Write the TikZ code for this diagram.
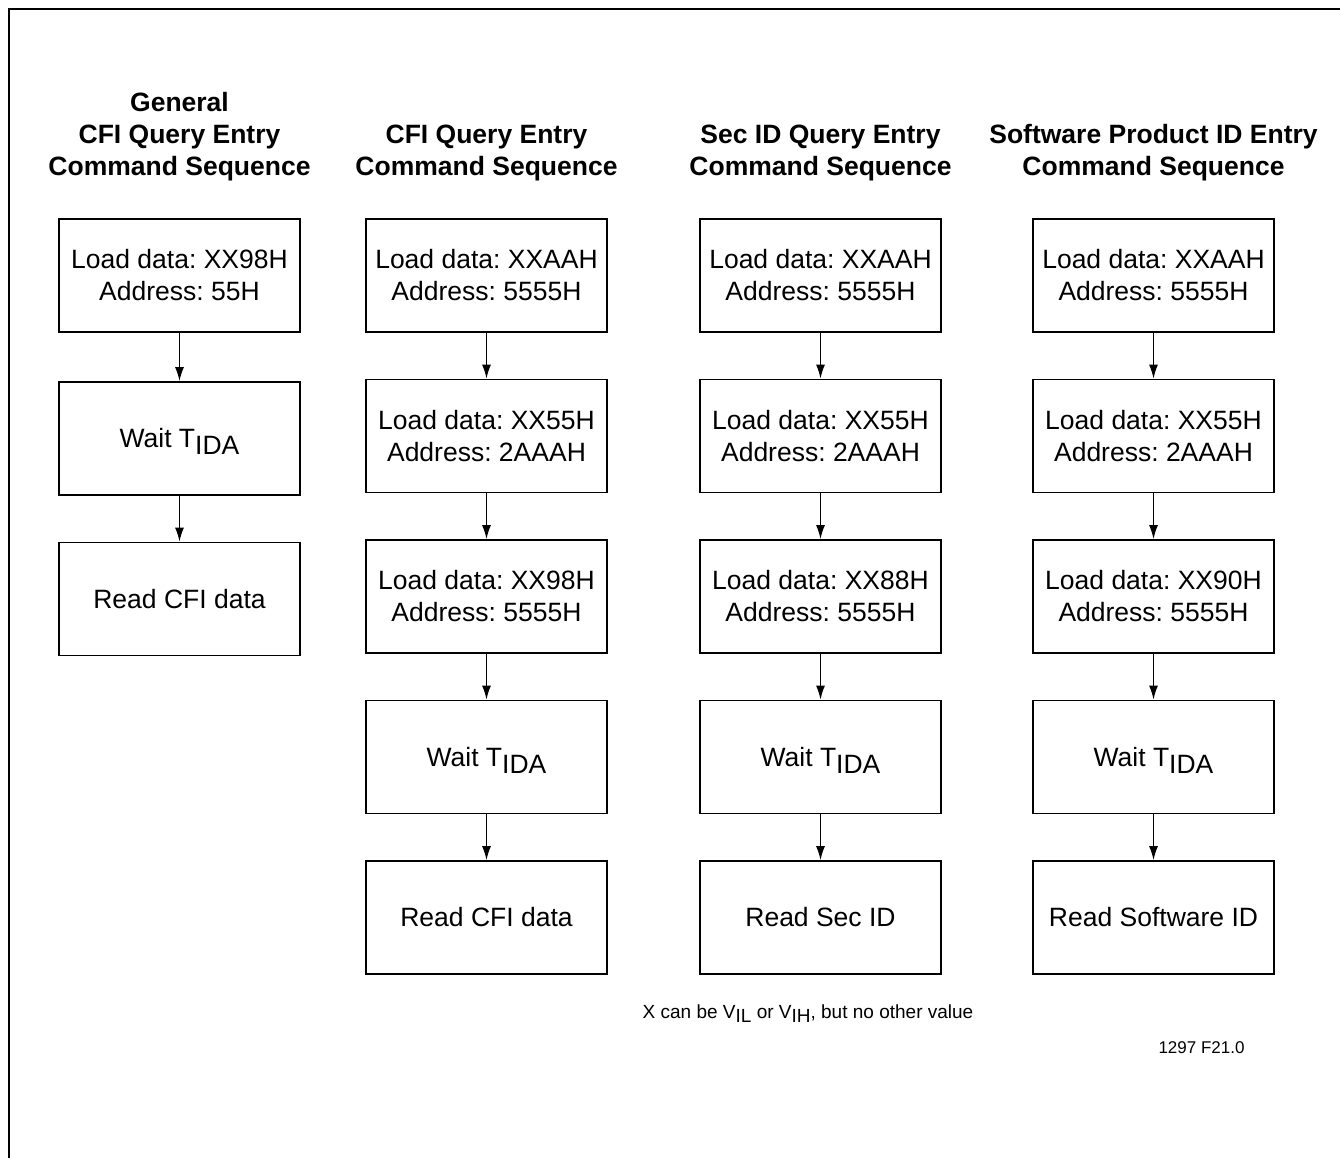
\documentclass[tikz,border=0pt]{standalone}
\usepackage{fontspec}
\setmainfont{Liberation Sans}
\usetikzlibrary{positioning,arrows.meta}
\newcommand{\low}[1]{\raisebox{-7pt}[0pt][0pt]{#1}}
\frenchspacing
\begin{document}
\begin{tikzpicture}[
    s/.style={draw,line width=1.8pt,rectangle,minimum height=113pt,minimum width=241pt,align=center,font=\fontsize{26.5}{32}\selectfont},
    t/.style={align=center,inner sep=0pt,font=\fontsize{26.5}{32}\selectfont\bfseries},
    note/.style={inner sep=0pt},
    flow/.style={-{Latex[length=14pt,width=9pt]},line width=1.3pt},
]

    \tikzset{
        node distance=160.5pt,
    }

    \useasboundingbox (0,0) rectangle (1340pt,-1157pt);
    \draw[line width=2.5pt] (9pt,-1165pt) -- (9pt,-9pt) -- (1350pt,-9pt);

    % general CFI query entry
    \node[s] (a1) at (179.5pt,-275.5pt) {Load data: XX98H\\Address: 55H};
    \node[s,below of=a1,yshift=-2.5pt] (a2) {Wait T\low{IDA}};
    \node[s,below of=a2] (a3) {Read CFI data};

    % CFI query entry
    \node[s,right of=a1,xshift=146.5pt] (b1) {Load data: XXAAH\\Address: 5555H};
    \node[s,below of=b1] (b2) {Load data: XX55H\\Address: 2AAAH};
    \node[s,below of=b2] (b3) {Load data: XX98H\\Address: 5555H};
    \node[s,below of=b3] (b4) {Wait T\low{IDA}};
    \node[s,below of=b4] (b5) {Read CFI data};

    % Sec ID query entry
    \node[s,right of=b1,xshift=173.5pt] (c1) {Load data: XXAAH\\Address: 5555H};
    \node[s,below of=c1] (c2) {Load data: XX55H\\Address: 2AAAH};
    \node[s,below of=c2] (c3) {Load data: XX88H\\Address: 5555H};
    \node[s,below of=c3] (c4) {Wait T\low{IDA}};
    \node[s,below of=c4] (c5) {Read Sec ID};

    % software product ID entry
    \node[s,right of=c1,xshift=172.5pt] (d1) {Load data: XXAAH\\Address: 5555H};
    \node[s,below of=d1] (d2) {Load data: XX55H\\Address: 2AAAH};
    \node[s,below of=d2] (d3) {Load data: XX90H\\Address: 5555H};
    \node[s,below of=d3] (d4) {Wait T\low{IDA}};
    \node[s,below of=d4] (d5) {Read Software ID};

    \node[t,above=37pt of a1] (ta) {General\\CFI Query Entry\\Command Sequence};
    \node[t,above=37pt of b1] (tb) {CFI Query Entry\\Command Sequence};
    \node[t,above=37pt of c1] (tc) {Sec ID Query Entry\\Command Sequence};
    \node[t,above=37pt of d1] (td) {Software Product ID Entry\\Command Sequence};

    \draw[flow]
        (a1) edge (a2)
        (a2) edge (a3)
        (b1) edge (b2)
        (b2) edge (b3)
        (b3) edge (b4)
        (b4) edge (b5)
        (c1) edge (c2)
        (c2) edge (c3)
        (c3) edge (c4)
        (c4) edge (c5)
        (d1) edge (d2)
        (d2) edge (d3)
        (d3) edge (d4)
        (d4) edge (d5)
    ;

    \node[note,font=\fontsize{19}{22}\selectfont] (vnote) at (808pt,-1014pt)
        {X can be V\raisebox{-4pt}{IL} or V\raisebox{-4pt}{IH}, but no other value};
    \node[note,font=\fontsize{17}{20}\selectfont] (fig) at (1201.5pt,-1048pt) {1297 F21.0};

\end{tikzpicture}
\end{document}
